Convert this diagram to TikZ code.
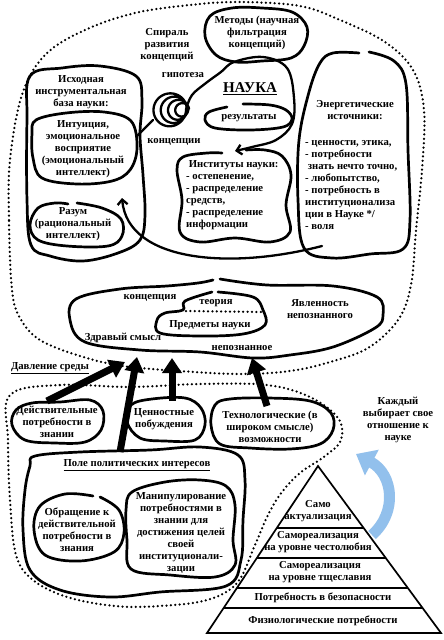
\documentclass[tikz,border=0pt]{standalone}
\usepackage{fontspec}
\setmainfont{Liberation Serif}
\usetikzlibrary{arrows.meta, calc}
\definecolor{skyarrow}{RGB}{146,192,236}

\begin{document}
\begin{tikzpicture}[
  x=1pt, y=-1pt,
  blob/.style={line width=2.7pt, line join=round, line cap=round},
  dotloop/.style={line width=2.5pt, line cap=round, dash pattern=on 0pt off 4.4pt},
  lbl/.style={font=\fontsize{10.7}{12}\selectfont\bfseries, align=center, inner sep=0pt},
  lst/.style={lbl, align=left, anchor=west},
  link/.style={line width=2.3pt, line cap=round},
  thin/.style={link, -{Straight Barb[length=5pt,width=10pt]}},
  push/.style={line width=7pt, -{Triangle[width=19pt,length=15pt]}},
  choice/.style={line width=11pt, skyarrow, -{Triangle[width=28pt,length=18pt]}},
  rule/.style={line width=1.7pt}
]
\fill[white] (0,0) rectangle (444,640);
\useasboundingbox (0,0) rectangle (444,640);

% Dotted fields
\draw[dotloop] plot[smooth cycle, tension=0.6] coordinates {(12,290) (9,220) (10,160) (22,95) (45,55) (85,30) (135,13) (190,5) (240,2) (300,6) (340,20) (385,42) (413,70) (424,110) (422,170) (416,230) (411,285) (398,320) (368,348) (330,362) (290,371) (240,374) (180,371) (123,366) (80,356) (40,340) (20,318)};
\draw[dotloop] plot[smooth cycle, tension=0.6] coordinates {(10,395) (60,385) (130,387) (200,384) (267,385) (310,397) (338,418) (341,440) (325,456) (300,473) (282,492) (268,515) (255,545) (237,583) (207,600) (160,606) (115,606) (67,597) (33,580) (16,555) (10,500) (8,440)};

% Science: base, methods, institutes
\draw[blob] plot[smooth cycle, tension=0.6] coordinates {(30,76) (62,68) (100,66) (136,76) (142,100) (140,135) (143,175) (145,215) (140,240) (118,253) (83,261) (50,256) (31,245) (27,200) (27,120)};
\draw[blob] plot[smooth cycle, tension=0.6] coordinates {(36,120) (66,113) (104,112) (131,121) (137,148) (130,170) (112,181) (77,184) (42,178) (33,158) (32,134)};
\draw[blob] plot[smooth, tension=0.6] coordinates {(77,203) (102,208) (121,219) (122,236) (108,246) (67,246) (38,240) (30,225) (38,208) (55,203) (68,204)};
\draw[blob] plot[smooth cycle, tension=0.6] coordinates {(210,16) (232,8) (262,8) (292,12) (307,27) (304,46) (291,58) (262,61) (236,62) (216,55) (205,36)};
\draw[blob] plot[smooth, tension=0.6] coordinates {(246,150) (265,150) (282,156) (291,175) (286,205) (290,232) (270,242) (235,238) (200,242) (180,232) (182,200) (177,170) (183,157) (207,153) (222,153)};
\draw[blob] plot[smooth, tension=0.6] coordinates {(369,52) (394,61) (406,84) (408,150) (410,220) (403,249) (370,254) (332,258) (304,248) (298,200) (299,140) (309,92) (320,63) (333,53) (359,53)};
\draw[blob] plot[smooth, tension=0.6] coordinates {(243,104) (270,105) (286,110) (292,119) (283,127) (250,130) (215,128) (205,120) (209,112) (227,107)};

% Spiral
\draw[link] plot[domain=0:1440, samples=300, smooth, variable=\t] ({184-\t/90+(5+\t/110)*cos(\t)}, {109-(5+\t/110)*sin(\t)});
\coordinate (spiralEnd) at (186.1,109);
\coordinate (spiralIn) at (153,120);
\coordinate (intuOut) at (137,136);
\coordinate (instIn) at (235,151);
\coordinate (energyOut) at (322,246);
\coordinate (reasonIn) at (122,198);

% Nodes
\node[lbl] (spiral) at (167,45) {Спираль\\развития\\концепций};
\node[lbl] (hypo) at (183,75) {гипотеза};
\node[lbl] (conc) at (174,142) {концепции};
\node[lbl] (methods) at (257,33) {Методы (научная\\фильтрация\\концепций)};
\node[lbl, font=\fontsize{15}{16}\selectfont\bfseries] (science) at (250,89) {\underline{НАУКА}};
\node[lbl] (results) at (249,118) {результаты};
\node[lbl] (base) at (81,92) {Исходная\\инструментальная\\база науки:};
\node[lbl] (intuition) at (83,149) {Интуиция,\\эмоциональное\\восприятие\\(эмоциональный\\интеллект)};
\node[lbl] (reason) at (73,224) {Разум\\(рациональный\\интеллект)};
\node[lst] (institutes) at (186,195) {\ Институты науки:\\- остепенение,\\- распределение\\средств,\\- распределение\\информации};
\node[lbl] (energy) at (355,110) {Энергетические\\источники:};
\node[lst] (sources) at (305,185) {- ценности, этика,\\- потребности\\\ знать нечто точно,\\- любопытство,\\- потребность в\\институционализа\\ции в Науке */\\- воля};

% Common sense
\draw[blob] plot[smooth, tension=0.6] coordinates {(220,279) (267,285) (333,286) (377,297) (383,315) (375,328) (333,347) (290,355) (253,358) (200,352) (140,350) (85,342) (70,320) (76,299) (120,289) (167,286) (198,283) (213,280)};
\draw[blob] plot[smooth, tension=0.6] coordinates {(218,292) (253,297) (263,310) (265,325) (243,334) (200,336) (160,333) (157,320) (165,313) (183,310) (185,301) (212,292)};
\coordinate (theoryL) at (186,311);
\coordinate (theoryR) at (262,312);
\draw[dotloop] (theoryL) -- (theoryR);
\node[lbl] (concept) at (150,298) {концепция};
\node[lbl] (theory) at (216,303) {теория};
\node[lbl] (manifest) at (320,309) {Явленность\\непознанного};
\node[lbl] (subjects) at (210,325) {Предметы науки};
\node[lbl] (sense) at (123,338) {Здравый смысл};
\node[lbl] (unknown) at (242,348) {непознанное};

% Environment
\node[lbl] (pressure) at (50,368) {\underline{Давление среды}};
\draw[blob] plot[smooth cycle, tension=0.6] coordinates {(16,410) (32,403) (60,402) (90,400) (103,411) (101,430) (85,442) (55,443) (25,440) (12,425)};
\draw[blob] plot[smooth cycle, tension=0.6] coordinates {(131,405) (152,399) (185,398) (201,408) (205,425) (195,440) (165,441) (140,438) (127,422)};
\draw[blob] plot[smooth cycle, tension=0.6] coordinates {(215,405) (230,399) (268,398) (310,401) (331,413) (333,430) (320,444) (290,449) (250,448) (220,444) (211,425)};
\node[lbl] (realneed) at (57,422) {Действительные\\потребности в\\знании};
\node[lbl] (values) at (164,419) {Ценностные\\побуждения};
\node[lbl] (tech) at (270,427) {Технологические (в\\широком смысле)\\возможности};

% Political field
\draw[blob] plot[smooth cycle, tension=0.6] coordinates {(35,456) (80,452) (150,450) (200,447) (238,455) (245,480) (243,520) (241,560) (226,586) (160,592) (110,597) (60,590) (30,570) (23,530) (25,490) (30,466)};
\draw[blob] plot[smooth, tension=0.6] coordinates {(100,497) (119,510) (124,533) (114,552) (80,561) (45,555) (34,530) (40,506) (65,494) (93,496)};
\draw[blob] plot[smooth cycle, tension=0.6] coordinates {(132,492) (165,482) (200,480) (226,486) (235,505) (233,540) (235,565) (215,577) (170,575) (131,569) (127,540) (126,510)};
\node[lbl] (field) at (137,465) {\underline{Поле политических интересов}};
\node[lbl] (appeal) at (77,530) {Обращение к\\действительной\\потребности в\\знания};
\node[lbl] (manip) at (181,533) {Манипулирование\\потребностями в\\знании для\\достижения целей\\своей\\институционали-\\зации};

% Pyramid
\coordinate (apex) at (318,466);
\coordinate (baseL) at (207,633);
\coordinate (baseR) at (441,633);
\draw[rule, line join=miter] (apex) -- (baseL) -- (baseR) -- cycle;
\foreach \yy in {528,558,588,608}
  \draw[rule] ($(apex)!{(\yy-466)/167}!(baseL)$) -- ($(apex)!{(\yy-466)/167}!(baseR)$);
\node[lbl] (selfact) at (318,511) {Само\\актуализация};
\node[lbl] (ambition) at (318,542) {Самореализация\\на уровне честолюбия};
\node[lbl] (vanity) at (320,572) {Самореализация\\на уровне тщеславия};
\node[lbl] (safety) at (323,598) {Потребность в безопасности};
\node[lbl] (physio) at (323,621) {Физиологические потребности};
\node[lbl] (each) at (398,420) {Каждый\\выбирает свое\\отношение к\\науке};

% Arrows
\coordinate (realTop) at (47,401);
\coordinate (fieldTop) at (120,452);
\coordinate (valueTop) at (172,401);
\coordinate (techTop) at (267,406);
\coordinate (senseL) at (125,362);
\coordinate (senseM) at (137,357);
\coordinate (senseC) at (172,358);
\coordinate (senseR) at (252,358);
\coordinate (pyrTop) at (372,535);
\coordinate (eachIn) at (356,454);
\draw[link] (intuOut) -- (spiralIn);
\draw[thin] plot[smooth, tension=0.6] coordinates {(spiralEnd) (192,95) (206,83) (221,72) (234,62) (263,57) (287,68) (294,98) (292,124) (276,140) (252,147) (instIn)};
\draw[thin] (energyOut) .. controls (230,270) and (128,262) .. (reasonIn);
\draw[push] (realTop) -- (senseL);
\draw[push] (fieldTop) -- (senseM);
\draw[push] (valueTop) -- (senseC);
\draw[push] (techTop) -- (senseR);
\draw[choice] (pyrTop) .. controls (398,512) and (393,474) .. (eachIn);

\end{tikzpicture}
\end{document}
